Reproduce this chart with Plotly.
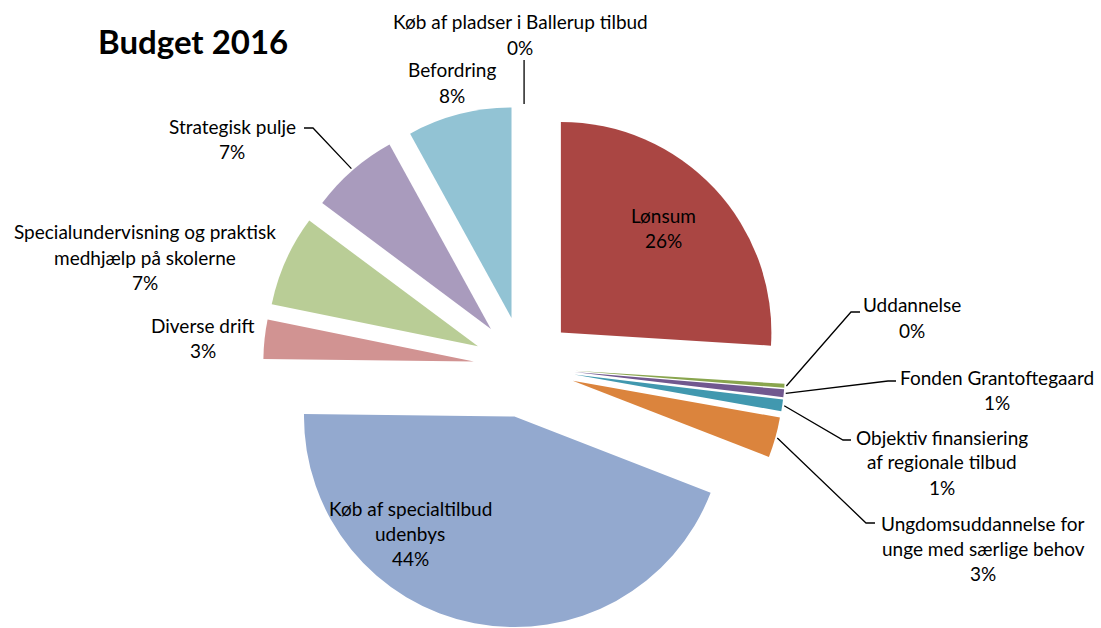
import math
import plotly.graph_objects as go

# ---- data ----
labels = [
    "Køb af pladser i Ballerup tilbud",
    "Lønsum",
    "Uddannelse",
    "Fonden Grantoftegaard",
    "Objektiv finansiering af regionale tilbud",
    "Ungdomsuddannelse for unge med særlige behov",
    "Køb af specialtilbud udenbys",
    "Diverse drift",
    "Specialundervisning og praktisk medhjælp på skolerne",
    "Strategisk pulje",
    "Befordring",
]
values = [0.0, 26.0, 0.3, 0.6, 0.9, 3.1, 44.3, 3.0, 7.0, 6.8, 8.0]
colors = ["#4572A7", "#AA4643", "#89A54E", "#71588F", "#4198AF", "#DB843D",
          "#93A9CF", "#D19392", "#B9CD96", "#A99BBD", "#92C3D4"]
# label text with manual line breaks (as in the reference)
label_lines = [
    ["Køb af pladser i Ballerup tilbud"],
    ["Lønsum"],
    ["Uddannelse"],
    ["Fonden Grantoftegaard"],
    ["Objektiv finansiering", "af regionale tilbud"],
    ["Ungdomsuddannelse for", "unge med særlige behov"],
    ["Køb af specialtilbud", "udenbys"],
    ["Diverse drift"],
    ["Specialundervisning og praktisk", "medhjælp på skolerne"],
    ["Strategisk pulje"],
    ["Befordring"],
]

# ---- layout constants ----
W, H = 1101, 628
PULL = 0.24
DOM_X = [0.10, 0.852]
DOM_Y = [0.0, 0.8312]
FONT = "Lato"
FS = 19
LINE_H = 25
# label block: (center x px, first-line center y px)
label_pos = {
    0: (520, 22), 1: (663, 216), 2: (912, 305), 3: (997, 377), 4: (942, 437),
    5: (983, 523), 6: (410, 508), 7: (203, 325), 8: (145, 232), 9: (232, 126),
    10: (452, 70),
}
# leader lines: label end point, elbow (px)
leaders = {
    0: [(None, 60)],
    9: [(304, 128), (313, 128)],
    2: [(860, 312), (851, 312)],
    3: [(896, 381), (888, 381)],
    4: [(851, 440), (843, 440)],
    5: [(875, 523), (866, 523)],
}

fig = go.Figure(go.Pie(
    labels=labels, values=values, sort=False, direction="clockwise", rotation=0,
    pull=[PULL] * len(values), marker=dict(colors=colors, line=dict(width=0)),
    textinfo="none", hoverinfo="label+percent", showlegend=False,
    domain=dict(x=DOM_X, y=DOM_Y),
))

# pie geometry (same as plotly's)
pw, ph = W * (DOM_X[1] - DOM_X[0]), H * (DOM_Y[1] - DOM_Y[0])
r = min(pw, ph) / (2 + 2 * PULL)
cx = W * (DOM_X[0] + DOM_X[1]) / 2
cy = H * (1 - (DOM_Y[0] + DOM_Y[1]) / 2)
total = sum(values)

def px2paper(x, y):
    return x / W, 1 - y / H

cum = 0.0
mid_angles = []
for v in values:
    a0 = cum / total * 360
    cum += v
    a1 = cum / total * 360
    mid_angles.append(math.radians((a0 + a1) / 2))

annotations = []
for i, lines in enumerate(label_lines):
    pct = round(values[i] / total * 100)
    x0, y0 = label_pos[i]
    for k, t in enumerate(lines + [f"{pct}%"]):
        px, py = px2paper(x0, y0 + k * LINE_H)
        annotations.append(dict(x=px, y=py, xref="paper", yref="paper", text=t,
                                showarrow=False, xanchor="center", yanchor="middle",
                                font=dict(family=FONT, size=FS, color="#000000")))

shapes = []
for i, pts in leaders.items():
    th = mid_angles[i]
    rr = r * (1 + PULL) + 2
    ax, ay = cx + rr * math.sin(th), cy - rr * math.cos(th)
    path_pts = []
    for (x, y) in pts:
        path_pts.append((ax if x is None else x, y))
    path_pts.append((ax, ay))
    path = ""
    for k, (x, y) in enumerate(path_pts):
        qx, qy = px2paper(x, y)
        path += ("M" if k == 0 else "L") + f"{qx:.5f},{qy:.5f} "
    shapes.append(dict(type="path", path=path.strip(), xref="paper", yref="paper",
                       line=dict(color="#000000", width=1.3)))

tx, ty = px2paper(193, 41)
annotations.append(dict(x=tx, y=ty, xref="paper", yref="paper", text="<b>Budget 2016</b>",
                        showarrow=False, xanchor="center", yanchor="middle",
                        font=dict(family=FONT, size=33, color="#000000")))

fig.update_layout(
    width=W, height=H, margin=dict(l=0, r=0, t=0, b=0),
    paper_bgcolor="white", plot_bgcolor="white",
    annotations=annotations, shapes=shapes,
    font=dict(family=FONT),
)
fig.write_html("out.html", config={"displayModeBar": False},
               post_script="document.body.style.margin='0';")
